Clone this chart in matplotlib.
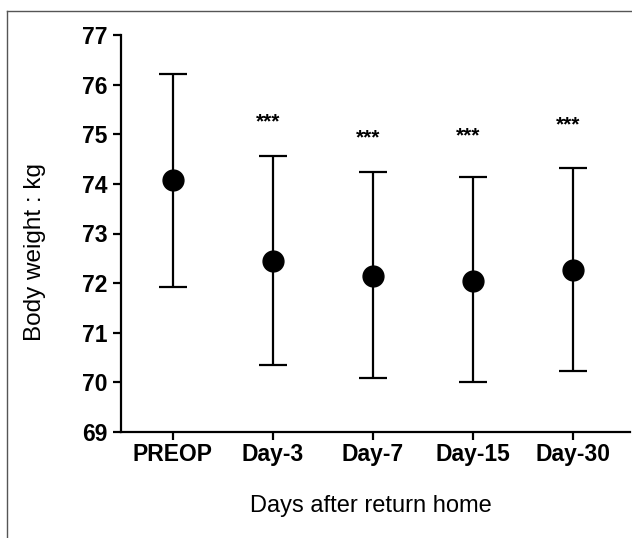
import matplotlib.pyplot as plt
from matplotlib.lines import Line2D

plt.rcParams['font.family'] = ['Liberation Sans', 'DejaVu Sans']

# data
groups = ['PREOP', 'Day-3', 'Day-7', 'Day-15', 'Day-30']
mean_kg = [74.07, 72.45, 72.15, 72.05, 72.27]
upper_kg = [76.22, 74.56, 74.24, 74.14, 74.32]
lower_kg = [71.93, 70.35, 70.08, 70.00, 70.23]
star_y = [None, 75.25, 74.92, 74.96, 75.18]

x = list(range(len(groups)))
err_lo = [m - l for m, l in zip(mean_kg, lower_kg)]
err_hi = [u - m for m, u in zip(mean_kg, upper_kg)]

fig = plt.figure(figsize=(6.32, 5.38), dpi=100)
ax = fig.add_axes([121 / 632, 106 / 538, 509 / 632, 397 / 538])

ax.errorbar(x, mean_kg, yerr=[err_lo, err_hi], fmt='o', color='black',
            markersize=15, elinewidth=1.6, capsize=10, capthick=1.6)

for xi, sy in zip(x, star_y):
    if sy is not None:
        ax.text(xi - 0.05, sy, '***', ha='center', va='center',
                fontsize=15, fontweight='bold')

ax.set_xlim(-0.52, 4.57)
ax.set_ylim(69, 77)
ax.set_yticks(range(69, 78))
ax.set_xticks(x)
ax.set_xticklabels(groups)

for s in ['top', 'right']:
    ax.spines[s].set_visible(False)
for s in ['left', 'bottom']:
    ax.spines[s].set_linewidth(1.6)

ax.tick_params(axis='both', width=1.6, length=6, labelsize=16.5)
ax.tick_params(axis='x', pad=2)
for lab in ax.get_xticklabels() + ax.get_yticklabels():
    lab.set_fontweight('bold')

ax.set_ylabel('Body weight : kg', fontsize=17.5)
ax.yaxis.set_label_coords(-(121 - 46) / 509, (432 - 252) / 397)
ax.set_xlabel('Days after return home', fontsize=17)
ax.xaxis.set_label_coords(0.49, -(495 - 432) / 397)

# outer frame of the cropped figure
fig.add_artist(Line2D([7 / 632, 7 / 632], [0, 1 - 11 / 538],
                      transform=fig.transFigure, color='#555555', lw=1))
fig.add_artist(Line2D([7 / 632, 1], [1 - 11 / 538, 1 - 11 / 538],
                      transform=fig.transFigure, color='#555555', lw=1))

fig.savefig('out.png', dpi=100)
